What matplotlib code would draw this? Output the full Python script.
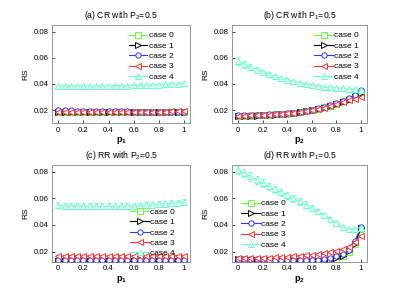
import matplotlib.pyplot as plt

plt.rcParams["font.family"] = ["Liberation Sans", "DejaVu Sans"]
plt.rcParams["mathtext.fontset"] = "custom"
plt.rcParams["mathtext.rm"] = "Liberation Sans"
plt.rcParams["mathtext.bf"] = "Liberation Sans:bold"

# x grid shared by all panels
p = [0.0, 0.05, 0.1, 0.15, 0.2, 0.25, 0.3, 0.35, 0.4, 0.45, 0.5,
     0.55, 0.6, 0.65, 0.7, 0.75, 0.8, 0.85, 0.9, 0.95, 1.0]

labels = ["case 0", "case 1", "case 2", "case 3", "case 4"]
colors = ["#66ff33", "#000000", "#3333ff", "#ff3333", "#66ffcc"]
markers = ["s", ">", "o", "<", "^"]

# (a) CR with P2=0.5
a_c0 = [0.0186, 0.0186, 0.0186, 0.0185, 0.0185, 0.0185, 0.0185, 0.0185, 0.0185, 0.0185, 0.0185,
        0.0185, 0.0185, 0.0185, 0.0185, 0.0185, 0.0186, 0.0186, 0.0186, 0.0186, 0.0186]
a_c1 = [0.0185, 0.0185, 0.0185, 0.0185, 0.0185, 0.0185, 0.0185, 0.0185, 0.0185, 0.0185, 0.0185,
        0.0185, 0.0185, 0.0185, 0.0185, 0.0185, 0.0185, 0.0185, 0.0185, 0.0185, 0.0185]
a_c2 = [0.0200, 0.0199, 0.0198, 0.0197, 0.0196, 0.0195, 0.0194, 0.0193, 0.0192, 0.0191, 0.0190,
        0.0190, 0.0189, 0.0189, 0.0188, 0.0188, 0.0187, 0.0187, 0.0186, 0.0186, 0.0186]
a_c3 = [0.0184, 0.0184, 0.0184, 0.0184, 0.0184, 0.0184, 0.0184, 0.0184, 0.0184, 0.0184, 0.0185,
        0.0185, 0.0185, 0.0186, 0.0186, 0.0187, 0.0188, 0.0189, 0.0190, 0.0191, 0.0192]
a_c4 = [0.0385, 0.0384, 0.0384, 0.0384, 0.0384, 0.0384, 0.0384, 0.0385, 0.0385, 0.0386, 0.0387,
        0.0388, 0.0389, 0.0390, 0.0392, 0.0393, 0.0395, 0.0397, 0.0399, 0.0401, 0.0404]
a_e4 = [0.0006] * 21

# (b) CR with P1=0.5
b_c0 = [0.0158, 0.0158, 0.0159, 0.0160, 0.0162, 0.0164, 0.0167, 0.0170, 0.0174, 0.0179, 0.0185,
        0.0192, 0.0200, 0.0210, 0.0222, 0.0235, 0.0250, 0.0266, 0.0283, 0.0305, 0.0335]
b_c1 = [0.0157, 0.0157, 0.0158, 0.0159, 0.0161, 0.0163, 0.0166, 0.0169, 0.0173, 0.0178, 0.0184,
        0.0191, 0.0199, 0.0209, 0.0220, 0.0233, 0.0248, 0.0264, 0.0281, 0.0302, 0.0330]
b_c2 = [0.0160, 0.0160, 0.0162, 0.0163, 0.0165, 0.0167, 0.0170, 0.0173, 0.0177, 0.0182, 0.0188,
        0.0195, 0.0203, 0.0213, 0.0225, 0.0238, 0.0255, 0.0272, 0.0292, 0.0318, 0.0355]
b_c3 = [0.0158, 0.0158, 0.0160, 0.0161, 0.0163, 0.0165, 0.0168, 0.0171, 0.0175, 0.0180, 0.0185,
        0.0192, 0.0200, 0.0210, 0.0220, 0.0232, 0.0245, 0.0260, 0.0274, 0.0288, 0.0302]
b_c4 = [0.0575, 0.0550, 0.0528, 0.0508, 0.0490, 0.0473, 0.0458, 0.0444, 0.0432, 0.0420, 0.0410,
        0.0401, 0.0393, 0.0386, 0.0380, 0.0375, 0.0370, 0.0366, 0.0362, 0.0358, 0.0355]
b_e4 = [0.0030, 0.0026, 0.0023, 0.0020, 0.0017, 0.0015, 0.0013, 0.0011, 0.0010, 0.0009, 0.0008,
        0.0007, 0.0007, 0.0006, 0.0006, 0.0006, 0.0006, 0.0006, 0.0006, 0.0006, 0.0006]

# (c) RR with P2=0.5
c_c0 = [0.0126, 0.0126, 0.0126, 0.0126, 0.0126, 0.0126, 0.0126, 0.0126, 0.0126, 0.0126, 0.0126,
        0.0126, 0.0126, 0.0126, 0.0126, 0.0126, 0.0126, 0.0126, 0.0126, 0.0126, 0.0126]
c_c1 = [0.0128, 0.0128, 0.0128, 0.0128, 0.0128, 0.0128, 0.0128, 0.0128, 0.0128, 0.0128, 0.0128,
        0.0128, 0.0128, 0.0128, 0.0128, 0.0128, 0.0128, 0.0128, 0.0128, 0.0128, 0.0128]
c_c2 = [0.0140, 0.0140, 0.0140, 0.0140, 0.0140, 0.0140, 0.0140, 0.0140, 0.0140, 0.0140, 0.0140,
        0.0140, 0.0140, 0.0140, 0.0140, 0.0140, 0.0140, 0.0140, 0.0140, 0.0140, 0.0140]
c_c3 = [0.0167, 0.0167, 0.0167, 0.0167, 0.0167, 0.0167, 0.0167, 0.0167, 0.0167, 0.0167, 0.0167,
        0.0167, 0.0167, 0.0167, 0.0167, 0.0167, 0.0168, 0.0168, 0.0169, 0.0169, 0.0170]
c_c4 = [0.0548, 0.0545, 0.0543, 0.0542, 0.0541, 0.0541, 0.0540, 0.0540, 0.0540, 0.0540, 0.0541,
        0.0542, 0.0543, 0.0545, 0.0548, 0.0551, 0.0555, 0.0559, 0.0563, 0.0568, 0.0575]
c_e4 = [0.0022] * 21

# (d) RR with P1=0.5
d_c0 = [0.0140, 0.0140, 0.0138, 0.0136, 0.0134, 0.0132, 0.0130, 0.0130, 0.0128, 0.0127, 0.0126,
        0.0125, 0.0125, 0.0126, 0.0128, 0.0134, 0.0145, 0.0165, 0.0198, 0.0255, 0.0370]
d_c1 = [0.0141, 0.0141, 0.0139, 0.0137, 0.0135, 0.0133, 0.0131, 0.0130, 0.0129, 0.0128, 0.0127,
        0.0126, 0.0126, 0.0127, 0.0130, 0.0137, 0.0148, 0.0170, 0.0202, 0.0260, 0.0375]
d_c2 = [0.0145, 0.0145, 0.0145, 0.0143, 0.0142, 0.0140, 0.0140, 0.0138, 0.0137, 0.0136, 0.0136,
        0.0136, 0.0138, 0.0140, 0.0145, 0.0152, 0.0165, 0.0182, 0.0215, 0.0280, 0.0385]
d_c3 = [0.0150, 0.0150, 0.0150, 0.0151, 0.0153, 0.0155, 0.0157, 0.0160, 0.0163, 0.0166, 0.0170,
        0.0174, 0.0178, 0.0183, 0.0189, 0.0196, 0.0205, 0.0218, 0.0238, 0.0272, 0.0320]
d_c4 = [0.0815, 0.0790, 0.0765, 0.0740, 0.0715, 0.0690, 0.0668, 0.0646, 0.0623, 0.0600, 0.0577,
        0.0553, 0.0528, 0.0502, 0.0474, 0.0444, 0.0413, 0.0385, 0.0370, 0.0370, 0.0380]
d_e4 = [0.0032, 0.0032, 0.0031, 0.0030, 0.0030, 0.0029, 0.0028, 0.0028, 0.0027, 0.0026, 0.0025,
        0.0024, 0.0023, 0.0021, 0.0019, 0.0017, 0.0015, 0.0013, 0.0011, 0.0010, 0.0010]

small_err = 0.0004

panels = [
    ("(a) CR with P$_2$=0.5", r"$\mathbf{p_1}$", [a_c0, a_c1, a_c2, a_c3, a_c4], a_e4),
    ("(b) CR with P$_1$=0.5", r"$\mathbf{p_2}$", [b_c0, b_c1, b_c2, b_c3, b_c4], b_e4),
    ("(c) RR with P$_2$=0.5", r"$\mathbf{p_1}$", [c_c0, c_c1, c_c2, c_c3, c_c4], c_e4),
    ("(d) RR with P$_1$=0.5", r"$\mathbf{p_2}$", [d_c0, d_c1, d_c2, d_c3, d_c4], d_e4),
]

boxes = [
    [0.128, 0.585, 0.339, 0.331],
    [0.570, 0.585, 0.332, 0.331],
    [0.128, 0.118, 0.339, 0.326],
    [0.570, 0.118, 0.332, 0.326],
]
ylims = [(0.01, 0.085), (0.01, 0.085), (0.0122, 0.085), (0.0122, 0.085)]

legend_opts = [
    dict(loc="upper right", bbox_to_anchor=(0.93, 1.0)),
    dict(loc="upper right", bbox_to_anchor=(0.99, 1.0)),
    dict(loc="lower right", bbox_to_anchor=(0.94, -0.02)),
    dict(loc="center left", bbox_to_anchor=(0.02, 0.39)),
]

fig = plt.figure(figsize=(4.07, 2.97), dpi=100)

for (title, xlab, series, err4), box, ylim, lopt in zip(panels, boxes, ylims, legend_opts):
    ax = fig.add_axes(box)
    handles = []
    for i in range(5):
        yerr = err4 if i == 4 else small_err
        ax.errorbar(p, series[i], yerr=yerr, color=colors[i], fmt="none",
                    elinewidth=0.6, capsize=1.5, capthick=0.6)
        h, = ax.plot(p, series[i], color=colors[i], marker=markers[i],
                     markersize=3.8, markerfacecolor="white", markeredgewidth=0.7,
                     linewidth=0.8, label=labels[i])
        handles.append(h)
    ax.set_xlim(-0.05, 1.05)
    ax.set_ylim(*ylim)
    ax.set_xticks([0, 0.2, 0.4, 0.6, 0.8, 1.0])
    ax.set_xticklabels(["0", "0.2", "0.4", "0.6", "0.8", "1"])
    ax.set_yticks([0.02, 0.04, 0.06, 0.08])
    ax.tick_params(labelsize=5.6, length=2, width=0.5, direction="in", pad=2.5)
    for s in ax.spines.values():
        s.set_color("#888888")
        s.set_linewidth(0.6)
    ax.set_title(title, fontsize=6.2, pad=5)
    ax.set_xlabel(xlab, fontsize=6.5, labelpad=1)
    ax.set_ylabel("RS", fontsize=6, labelpad=3)
    ax.legend(handles=handles, frameon=False, fontsize=6, handlelength=2.2,
              handletextpad=0.2, labelspacing=0.3, borderpad=0.3, **lopt)

fig.savefig("out.png", dpi=100)
